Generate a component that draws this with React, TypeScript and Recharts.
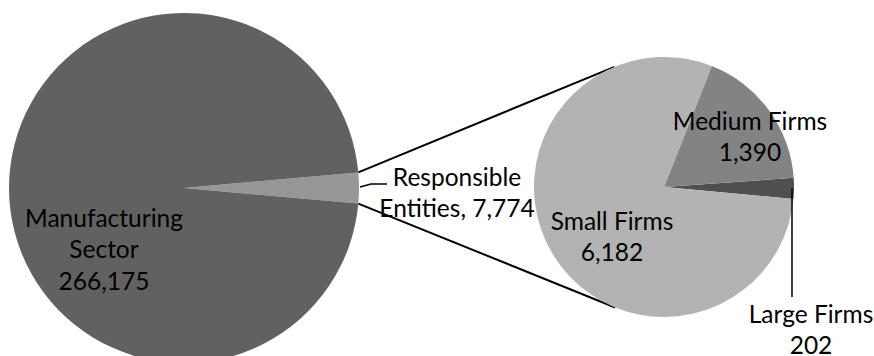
import React from 'react';
import { PieChart, Pie, Cell, Customized } from 'recharts';

// ---- data ----
const mainCategories = ['Responsible Entities', 'Manufacturing Sector'];
const mainValues = [7774, 266175];
const subCategories = ['Large Firms', 'Medium Firms', 'Small Firms'];
const subValues = [202, 1390, 6182];

// ---- layout / style ----
const W = 874;
const H = 356;
const MAIN = { cx: 184, cy: 188, r: 175 };
const SUB = { cx: 664, cy: 187, r: 130 };
const SUB_START = -5.3;
const FONT = 'Lato, sans-serif';
const FONT_SIZE = 24.5;
const LINE_H = 31.5;

const mainColors = ['#979797', '#616161'];
const subColors = ['#4f4f4f', '#838383', '#b3b3b3'];

const mainData = mainCategories.map((name, i) => ({ name, value: mainValues[i] }));
const subData = subCategories.map((name, i) => ({ name, value: subValues[i] }));

const mainTotal = mainValues.reduce((a, b) => a + b, 0);
const mainSpan = (mainValues[0] / mainTotal) * 360;
const MAIN_START = -mainSpan / 2;

const fmt = (v: number) => v.toLocaleString('en-US');

// label placement relative to pie centre (layout only)
const labelPos: Record<string, { dx: number; dy: number }> = {
  'Manufacturing Sector': { dx: -80, dy: 29 },
  'Responsible Entities': { dx: 273, dy: -12 },
  'Small Firms': { dx: -52, dy: 33 },
  'Medium Firms': { dx: 86, dy: -67 },
  'Large Firms': { dx: 147, dy: 126 },
};

const labelLines = (name: string, value: number): string[] => {
  if (name === 'Manufacturing Sector') {
    const [a, b] = name.split(' ');
    return [a, b, fmt(value)];
  }
  if (name === 'Responsible Entities') {
    const [a, b] = name.split(' ');
    return [a, `${b}, ${fmt(value)}`];
  }
  return [name, fmt(value)];
};

const renderLabel = (props: any) => {
  const { cx, cy, name, value, midAngle, outerRadius } = props;
  const pos = labelPos[name];
  if (!pos) return null;
  const lines = labelLines(name, value);
  const x = cx + pos.dx;
  const y0 = cy + pos.dy;
  let leader: React.ReactNode = null;
  const rad = (midAngle * Math.PI) / 180;
  const ex = cx + outerRadius * Math.cos(rad);
  const ey = cy - outerRadius * Math.sin(rad);
  if (name === 'Responsible Entities') {
    leader = (
      <polyline
        points={`${ex + 1},${ey - 1} ${ex + 12},${ey - 4} ${ex + 28},${ey - 4}`}
        fill="none"
        stroke="#000"
        strokeWidth={1.5}
      />
    );
  } else if (name === 'Large Firms') {
    leader = (
      <line x1={ex - 2} y1={ey} x2={ex - 2} y2={cy + 110} stroke="#000" strokeWidth={1.5} />
    );
  }
  return (
    <g key={`lbl-${name}`}>
      {leader}
      {lines.map((t, i) => (
        <text
          key={i}
          x={x}
          y={y0 + i * LINE_H}
          textAnchor="middle"
          dominantBaseline="central"
          fontFamily={FONT}
          fontSize={FONT_SIZE}
          fill="#000"
        >
          {t}
        </text>
      ))}
    </g>
  );
};

const tangent = (px: number, py: number, sign: number) => {
  const vx = px - SUB.cx;
  const vy = py - SUB.cy;
  const d = Math.sqrt(vx * vx + vy * vy);
  const th = Math.atan2(vy, vx);
  const a = Math.acos(SUB.r / d);
  const t = th + sign * a;
  return { x: SUB.cx + SUB.r * Math.cos(t), y: SUB.cy + SUB.r * Math.sin(t) };
};

const Connectors = () => {
  const half = ((mainSpan / 2) * Math.PI) / 180;
  const px = MAIN.cx + MAIN.r * Math.cos(half);
  const pyTop = MAIN.cy - MAIN.r * Math.sin(half);
  const pyBot = MAIN.cy + MAIN.r * Math.sin(half);
  const t1 = tangent(px, pyTop, 1);
  const t2 = tangent(px, pyBot, -1);
  return (
    <g>
      <line x1={px} y1={pyTop} x2={t1.x} y2={t1.y} stroke="#000" strokeWidth={2} />
      <line x1={px} y1={pyBot} x2={t2.x} y2={t2.y} stroke="#000" strokeWidth={2} />
    </g>
  );
};

export default function App() {
  return (
    <div style={{ position: 'absolute', left: 0, top: 0, width: W, height: H, background: '#fff' }}>
      <PieChart width={W} height={H} margin={{ top: 0, right: 0, bottom: 0, left: 0 }}>
        <Pie
          data={mainData}
          dataKey="value"
          nameKey="name"
          cx={MAIN.cx}
          cy={MAIN.cy}
          outerRadius={MAIN.r}
          startAngle={MAIN_START}
          endAngle={MAIN_START + 360}
          stroke="none"
          isAnimationActive={false}
          label={renderLabel}
          labelLine={false}
        >
          {mainData.map((d, i) => (
            <Cell key={d.name} fill={mainColors[i]} />
          ))}
        </Pie>
        <Pie
          data={subData}
          dataKey="value"
          nameKey="name"
          cx={SUB.cx}
          cy={SUB.cy}
          outerRadius={SUB.r}
          startAngle={SUB_START}
          endAngle={SUB_START + 360}
          stroke="none"
          isAnimationActive={false}
          label={renderLabel}
          labelLine={false}
        >
          {subData.map((d, i) => (
            <Cell key={d.name} fill={subColors[i]} />
          ))}
        </Pie>
        <Customized component={Connectors} />
      </PieChart>
    </div>
  );
}
